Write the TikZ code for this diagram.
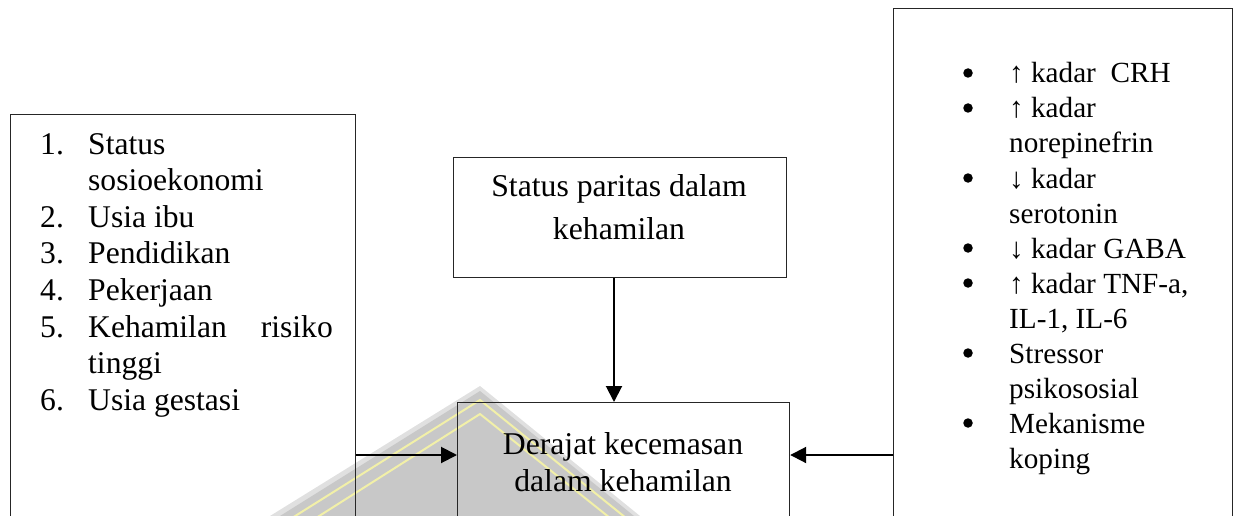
\documentclass[tikz,border=0pt]{standalone}
\usepackage{fontspec}
\setmainfont{Liberation Serif}
\usetikzlibrary{arrows.meta}
\definecolor{wmgray}{HTML}{C8C8C8}
\definecolor{wmyel}{HTML}{F2F0A8}
\begin{document}
\begin{tikzpicture}[x=1pt,y=-1pt,
  box/.style={draw=black!85,line width=1.2pt,inner sep=0pt,anchor=north west},
  conn/.style={line width=2pt,-{Triangle[length=16pt,width=16pt]}},
  tl/.style={anchor=base west,inner sep=0pt,font=\fontsize{31.6}{36}\selectfont},
  tc/.style={anchor=base,inner sep=0pt,font=\fontsize{31.7}{36}\selectfont},
  tr/.style={anchor=base west,inner sep=0pt,font=\fontsize{29.2}{35}\selectfont},
  bul/.style={circle,fill=black,inner sep=0pt,minimum size=9.5pt}]
\useasboundingbox (0,0) rectangle (1237,516);
\clip (0,0) rectangle (1237,516);
% watermark (faint)
\fill[black!12] (480,386) -- (640,516) -- (270,516) -- cycle;
\fill[wmgray] (480,391) -- (634,516) -- (280,516) -- cycle;
\draw[wmyel,line width=2pt] (292,518) -- (480,400) -- (626,518);
\draw[wmyel,line width=2pt] (316,518) -- (480,414) -- (610,518);
% boxes
\node[box,minimum width=345pt,minimum height=420pt] (left) at (10,114) {};
\node[box,minimum width=333pt,minimum height=120pt] (top) at (453,157) {};
\node[box,minimum width=332pt,minimum height=130pt] (low) at (457,402) {};
\node[box,minimum width=339pt,minimum height=530pt] (right) at (893,8) {};
% left list
\node[tl] (n1) at (40,154) {1.};   \node[tl] (l1) at (88,154) {Status};
\node[tl] (l1b) at (88,190.6) {sosioekonomi};
\node[tl] (n2) at (40,227.2) {2.}; \node[tl] (l2) at (88,227.2) {Usia ibu};
\node[tl] (n3) at (40,263.8) {3.}; \node[tl] (l3) at (88,263.8) {Pendidikan};
\node[tl] (n4) at (40,300.4) {4.}; \node[tl] (l4) at (88,300.4) {Pekerjaan};
\node[tl] (n5) at (40,337) {5.};   \node[tl] (l5) at (88,337) {Kehamilan};
\node[tl,anchor=base east] (l5r) at (333,337) {risiko};
\node[tl] (l5b) at (88,373.6) {tinggi};
\node[tl] (n6) at (40,410.2) {6.}; \node[tl] (l6) at (88,410.2) {Usia gestasi};
% top centre
\node[tc] (t1) at (619,196) {Status paritas dalam};
\node[tc] (t2) at (619,239) {kehamilan};
% lower centre
\node[tc] (d1) at (623,454) {Derajat kecemasan};
\node[tc] (d2) at (623,491) {dalam kehamilan};
% right list
\node[bul] (b1) at (968,73) {};  \node[tr] (r1) at (1009,83) {↑ kadar\ \ CRH};
\node[bul] (b2) at (968,108) {}; \node[tr] (r2) at (1009,118) {↑ kadar};
\node[tr] (r2b) at (1009,153) {norepinefrin};
\node[bul] (b3) at (968,178) {}; \node[tr] (r3) at (1009,188) {↓ kadar};
\node[tr] (r3b) at (1009,223) {serotonin};
\node[bul] (b4) at (968,248) {}; \node[tr] (r4) at (1009,258) {↓ kadar GABA};
\node[bul] (b5) at (968,283) {}; \node[tr] (r5) at (1009,293) {↑ kadar TNF-a,};
\node[tr] (r5b) at (1009,328) {IL-1, IL-6};
\node[bul] (b6) at (968,353) {}; \node[tr] (r6) at (1009,363) {Stressor};
\node[tr] (r6b) at (1009,398) {psikososial};
\node[bul] (b7) at (968,423) {}; \node[tr] (r7) at (1009,433) {Mekanisme};
\node[tr] (r7b) at (1009,468) {koping};
% connectors
\coordinate (ay) at (0,455);
\coordinate (ax) at (614,0);
\draw[conn] (top.south -| ax) -- (low.north -| ax);
\draw[conn] (left.east |- ay) -- (low.west |- ay);
\draw[conn] (right.west |- ay) -- (low.east |- ay);
\end{tikzpicture}
\end{document}
